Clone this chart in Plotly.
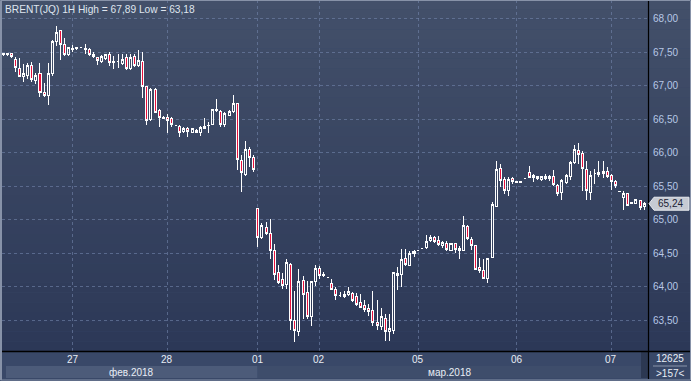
import plotly.graph_objects as go

# ---------------- data ----------------
opens = [67.46,67.46,67.48,67.40,67.26,67.14,67.16,67.31,67.08,67.18,
         66.90,66.85,67.18,67.66,67.82,67.61,67.47,67.54,67.55,67.57,
         67.54,67.54,67.44,67.42,67.37,67.41,67.46,67.35,67.36,67.34,
         67.42,67.26,67.43,67.30,67.36,66.99,66.49,66.95,66.63,66.51,
         66.53,66.51,66.41,66.40,66.32,66.37,66.31,66.31,66.30,66.36,
         66.41,66.42,66.63,66.62,66.42,66.56,66.61,66.73,65.89,65.68,
         66.05,65.93,65.17,64.74,64.89,64.79,64.54,64.21,64.11,64.04,
         64.34,63.50,63.34,64.10,63.91,63.55,64.08,64.27,64.17,64.14,
         64.05,63.96,63.87,63.86,63.89,63.90,63.85,63.76,63.72,63.68,
         63.65,63.46,63.41,63.53,63.33,63.35,64.20,64.18,64.42,64.32,
         64.50,64.54,64.57,64.58,64.69,64.73,64.69,64.62,64.65,64.54,
         64.64,64.54,64.54,64.90,64.71,64.62,64.29,64.24,64.13,64.43,
         65.20,65.76,65.60,65.44,65.61,65.55,65.55,65.62,65.70,65.63,
         65.61,65.60,65.62,65.65,65.64,65.51,65.41,65.55,65.65,65.86,
         66.03,65.99,65.75,65.41,65.69,65.68,65.69,65.72,65.66,65.57,
         65.42,65.34,65.39,65.24,65.25,65.29,65.20]
highs = [67.48,67.49,67.49,67.43,67.42,67.33,67.34,67.35,67.19,67.34,
         67.04,67.34,67.68,67.89,67.83,67.72,67.58,67.61,67.58,67.57,
         67.62,67.56,67.50,67.43,67.46,67.48,67.51,67.44,67.48,67.47,
         67.47,67.48,67.48,67.54,67.51,66.99,66.96,66.96,66.66,66.55,
         66.58,66.53,66.41,66.41,66.38,66.39,66.37,66.36,66.40,66.52,
         66.46,66.66,66.80,66.64,66.61,66.64,66.86,66.74,65.96,66.18,
         66.08,65.97,65.17,64.95,64.96,65.01,64.64,64.33,64.21,64.42,
         64.36,63.94,64.27,64.16,64.09,64.09,64.33,64.31,64.22,64.14,
         64.12,63.99,63.92,63.94,63.99,63.92,63.91,63.90,63.81,63.74,
         63.93,63.81,63.68,63.60,63.59,64.22,64.30,64.56,64.56,64.54,
         64.55,64.54,64.57,64.78,64.78,64.76,64.76,64.68,64.68,64.65,
         64.66,64.61,65.06,64.92,64.75,64.63,64.43,64.42,64.43,65.26,
         65.88,65.84,65.64,65.64,65.64,65.57,65.57,65.62,65.81,65.68,
         65.66,65.66,65.68,65.67,65.74,65.53,65.61,65.69,65.88,66.12,
         66.15,66.02,65.88,65.73,65.76,65.88,65.88,65.79,65.69,65.59,
         65.42,65.43,65.40,65.26,65.31,65.30,65.26]
lows = [67.45,67.45,67.41,67.21,67.13,67.05,67.10,67.06,67.03,66.84,
        66.83,66.72,67.14,67.60,67.38,67.44,67.45,67.51,67.54,67.57,
        67.48,67.45,67.41,67.31,67.34,67.38,67.30,67.25,67.27,67.31,
        67.24,67.24,67.28,67.28,66.82,66.42,66.48,66.59,66.39,66.50,
        66.30,66.39,66.41,66.23,66.30,66.23,66.30,66.30,66.25,66.35,
        66.29,66.41,66.61,66.39,66.39,66.55,66.60,65.75,65.41,65.65,
        65.79,65.72,64.60,64.71,64.77,64.41,64.10,64.04,63.96,63.96,
        63.35,63.18,63.26,63.52,63.52,63.41,64.01,64.12,64.15,64.14,
        63.95,63.81,63.85,63.84,63.87,63.78,63.71,63.68,63.62,63.57,
        63.42,63.35,63.35,63.19,63.19,63.30,63.95,64.00,64.31,64.31,
        64.45,64.54,64.57,64.57,64.67,64.66,64.61,64.58,64.53,64.54,
        64.50,64.42,64.53,64.70,64.55,64.25,64.20,64.12,64.06,64.43,
        65.20,65.49,65.39,65.35,65.54,65.55,65.55,65.62,65.62,65.56,
        65.59,65.58,65.59,65.58,65.51,65.35,65.29,65.54,65.60,65.84,
        65.84,65.43,65.30,65.30,65.53,65.64,65.63,65.63,65.44,65.48,
        65.42,65.15,65.22,65.24,65.24,65.15,65.15]
closes = [67.48,67.48,67.43,67.28,67.14,67.19,67.30,67.10,67.16,66.90,
          66.86,67.19,67.66,67.79,67.62,67.47,67.57,67.55,67.57,67.57,
          67.56,67.47,67.46,67.38,67.44,67.46,67.35,67.37,67.36,67.40,
          67.26,67.42,67.31,67.38,66.99,66.48,66.94,66.60,66.52,66.53,
          66.48,66.42,66.41,66.30,66.37,66.32,66.36,66.34,66.38,66.40,
          66.41,66.64,66.65,66.42,66.59,66.61,66.74,65.90,65.70,66.05,
          65.93,65.75,64.73,64.91,64.79,64.54,64.18,64.07,64.02,64.36,
          63.50,63.35,64.08,63.89,63.55,64.08,64.28,64.17,64.19,64.14,
          63.96,63.87,63.87,63.89,63.93,63.80,63.74,63.69,63.66,63.63,
          63.47,63.42,63.56,63.33,63.38,64.21,64.17,64.41,64.34,64.50,
          64.53,64.54,64.57,64.68,64.74,64.68,64.63,64.66,64.55,64.65,
          64.56,64.57,64.92,64.72,64.62,64.26,64.25,64.12,64.42,65.23,
          65.75,65.59,65.44,65.60,65.57,65.57,65.57,65.62,65.63,65.66,
          65.64,65.65,65.65,65.61,65.53,65.40,65.58,65.66,65.86,66.05,
          65.97,65.76,65.44,65.66,65.69,65.71,65.72,65.65,65.57,65.51,
          65.42,65.39,65.22,65.26,65.30,65.19,65.24]
day_labels = ["27", "28", "01", "02", "05", "06", "07"]
day_start_idx = [17, 40, 62, 77, 101, 125, 148]
month_labels = ["фев.2018", "мар.2018"]
title_text = "BRENT(JQ) 1H High = 67,89 Low = 63,18"
y_ticks = [63.5, 64.0, 64.5, 65.0, 65.5, 66.0, 66.5, 67.0, 67.5, 68.0]
corner_top, corner_bottom = "12625", ">157<"

# ---------------- geometry ----------------
W, H = 691, 381
PL, PR, PT, PB = 2, 648, 0, 351          # plot area in pixels
PW, PH = PR - PL, PB - PT


def px(X):
    return (X - PL) / PW


def py(Y):
    return (PB - Y) / PH


def xpix(i):
    return 3 + 4.11 * i


n = len(closes)
idx = list(range(n))

fig = go.Figure()
fig.add_trace(go.Candlestick(
    x=idx, open=opens, high=highs, low=lows, close=closes,
    increasing=dict(line=dict(color="#ffffff", width=1), fillcolor="rgba(0,0,0,0)"),
    decreasing=dict(line=dict(color="#ffffff", width=1), fillcolor="#e8103c"),
    whiskerwidth=0, hoverinfo="skip", showlegend=False,
))

shapes = []
# background gradient bands (plot + right axis area)
top_c = (67, 80, 106)
bot_c = (44, 56, 87)
nb = 36
for k in range(nb):
    y0 = PB * k / nb
    y1 = PB * (k + 1) / nb
    t = (k + 0.5) / nb
    c = tuple(int(round(top_c[j] + (bot_c[j] - top_c[j]) * t)) for j in range(3))
    shapes.append(dict(type="rect", xref="paper", yref="paper", layer="below",
                       x0=px(0), x1=px(W), y0=py(y1), y1=py(y0),
                       fillcolor="rgb(%d,%d,%d)" % c, line=dict(width=0)))
# bottom strip month bands
feb_end = xpix(day_start_idx[2]) - 0.2
shapes.append(dict(type="rect", xref="paper", yref="paper", layer="below",
                   x0=px(6), x1=px(feb_end), y0=py(378), y1=py(366),
                   fillcolor="#4c5b79", line=dict(width=0)))
shapes.append(dict(type="rect", xref="paper", yref="paper", layer="below",
                   x0=px(feb_end), x1=px(641), y0=py(378), y1=py(366),
                   fillcolor="#3e4d6b", line=dict(width=0)))
shapes.append(dict(type="rect", xref="paper", yref="paper", layer="below",
                   x0=px(641), x1=px(648), y0=py(378), y1=py(352),
                   fillcolor="#2c3852", line=dict(width=0)))
# separators
shapes.append(dict(type="line", xref="paper", yref="paper", layer="above",
                   x0=px(0), x1=px(W), y0=py(351.5), y1=py(351.5),
                   line=dict(color="#000000", width=1.5)))
shapes.append(dict(type="line", xref="paper", yref="paper", layer="above",
                   x0=px(648.5), x1=px(648.5), y0=py(0), y1=py(379),
                   line=dict(color="#000000", width=1.2)))
shapes.append(dict(type="line", xref="paper", yref="paper", layer="above",
                   x0=px(653), x1=px(687), y0=py(366), y1=py(366),
                   line=dict(color="#8a94aa", width=1)))
# outer border
shapes.append(dict(type="rect", xref="paper", yref="paper", layer="above",
                   x0=px(0.5), x1=px(W - 0.5), y0=py(H - 1), y1=py(0.5),
                   line=dict(color="#8792a8", width=1), fillcolor="rgba(0,0,0,0)"))
shapes.append(dict(type="line", xref="paper", yref="paper", layer="above",
                   x0=px(1.5), x1=px(1.5), y0=py(H - 1), y1=py(0.5),
                   line=dict(color="#8792a8", width=1)))
# last price marker
last = closes[-1]
hh = 6.5 / 67.0
path = "M %f,%f L %f,%f L %f,%f L %f,%f L %f,%f Z" % (
    px(649), last, px(654), last + hh, px(689), last + hh,
    px(689), last - hh, px(654), last - hh)
shapes.append(dict(type="path", xref="paper", yref="y", path=path, layer="above",
                   fillcolor="#c6cad3", line=dict(color="#e6e9ee", width=1)))

FONT = "Liberation Sans, Arial, sans-serif"
annotations = []
annotations.append(dict(text=title_text, xref="paper", yref="paper", x=px(2.5), y=py(10),
                        xanchor="left", yanchor="middle", showarrow=False,
                        font=dict(family=FONT, size=10.2, color="#dfe5ef")))
for lab, i in zip(day_labels, day_start_idx):
    annotations.append(dict(text=lab, xref="x", yref="paper", x=i, y=py(359.5),
                            xanchor="center", yanchor="middle", showarrow=False,
                            font=dict(family=FONT, size=10, color="#e8edf5")))
annotations.append(dict(text=month_labels[0], xref="paper", yref="paper",
                        x=px((6 + feb_end) / 2), y=py(372.5), xanchor="center",
                        yanchor="middle", showarrow=False,
                        font=dict(family=FONT, size=10, color="#e8edf5")))
annotations.append(dict(text=month_labels[1], xref="paper", yref="paper",
                        x=px((feb_end + 641) / 2), y=py(372.5), xanchor="center",
                        yanchor="middle", showarrow=False,
                        font=dict(family=FONT, size=10, color="#e8edf5")))
annotations.append(dict(text=corner_top, xref="paper", yref="paper", x=px(670), y=py(358.5),
                        xanchor="center", yanchor="middle", showarrow=False,
                        font=dict(family=FONT, size=10, color="#e8edf5")))
annotations.append(dict(text=corner_bottom, xref="paper", yref="paper", x=px(670), y=py(373),
                        xanchor="center", yanchor="middle", showarrow=False,
                        font=dict(family=FONT, size=10, color="#e8edf5")))
annotations.append(dict(text=("%.2f" % last).replace(".", ","), xref="paper", yref="y",
                        x=px(670.5), y=last, xanchor="center", yanchor="middle",
                        showarrow=False,
                        font=dict(family=FONT, size=10, color="#1b2233")))

y_lo = 67.5 - (PB - 52.3) / 67.0
y_hi = 67.5 - (PT - 52.3) / 67.0
x_lo = (PL - 3) / 4.11
x_hi = (PR - 3) / 4.11

grid_col = "rgba(115,134,172,0.6)"
fig.update_layout(
    width=W, height=H,
    margin=dict(l=PL, r=W - PR, t=PT, b=H - PB),
    paper_bgcolor="#394868",
    plot_bgcolor="rgba(0,0,0,0)",
    separators=",.",
    shapes=shapes,
    annotations=annotations,
    showlegend=False,
    hovermode=False,
    xaxis=dict(range=[x_lo, x_hi], rangeslider=dict(visible=False),
               tickvals=day_start_idx, showticklabels=False, ticks="",
               showgrid=True, gridcolor=grid_col, griddash="3px,3px", gridwidth=1,
               zeroline=False, showline=False, fixedrange=True),
    yaxis=dict(range=[y_lo, y_hi], side="right", tickvals=y_ticks, tickformat=".2f",
               ticks="outside", ticklen=2, tickcolor="rgba(0,0,0,0)",
               tickfont=dict(family=FONT, size=10, color="#b7c8e6"),
               showgrid=True, gridcolor=grid_col, griddash="3px,3px", gridwidth=1,
               zeroline=False, showline=False, fixedrange=True),
)

fig.write_html(
    "out.html",
    config={"displayModeBar": False, "staticPlot": True},
    post_script=(
        "document.body.style.margin='0';document.body.style.padding='0';"
        "document.body.style.overflow='hidden';"
        "var crisp=function(){document.querySelectorAll('.cartesianlayer path')"
        ".forEach(function(p){p.style.shapeRendering='crispEdges';});};"
        "crisp();setTimeout(crisp,30);setTimeout(crisp,200);"
    ),
)
